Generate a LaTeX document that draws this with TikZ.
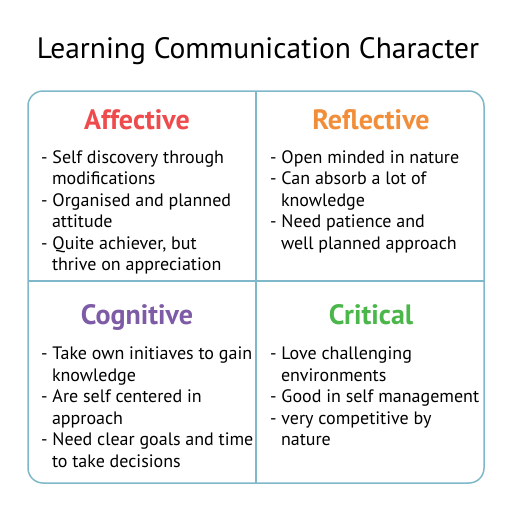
\documentclass[tikz,border=0pt]{standalone}
\usepackage{fontspec}
\setmainfont{PT Sans}
\definecolor{framec}{HTML}{7FB8C8}
\definecolor{affc}{HTML}{EF4A4C}
\definecolor{refc}{HTML}{F28E3A}
\definecolor{cogc}{HTML}{7D5BA6}
\definecolor{crc}{HTML}{4BB74A}
\tikzset{
  head/.style={font=\fontsize{28}{32}\selectfont\bfseries, anchor=base},
  items/.style={font=\fontsize{18}{21.5}\selectfont, align=left, anchor=north west, inner sep=0pt},
  frame/.style={draw=framec, line width=1.5pt}
}
\newcommand{\ind}{\hspace*{0.6em}}
\begin{document}
\begin{tikzpicture}[x=1pt,y=-1pt]
  \useasboundingbox[fill=white] (0,0) rectangle (512,512);
  \node[font=\fontsize{29.5}{34}\selectfont, anchor=base] (title) at (258,58) {Learning Communication Character};
  \draw[frame, rounded corners=15pt] (28,91) rectangle (484,483);
  \coordinate (vtop) at (256,91);
  \coordinate (vbot) at (256,483);
  \coordinate (hl) at (28,281);
  \coordinate (hr) at (484,281);
  \draw[frame] (vtop) -- (vbot);
  \draw[frame] (hl) -- (hr);
  % headings
  \node[head, text=affc] (aff) at (137,129) {Affective};
  \node[head, text=refc] (ref) at (371,129) {Reflective};
  \node[head, text=cogc] (cog) at (137,324) {Cognitive};
  \node[head, text=crc] (cri) at (371,324) {Critical};
  % lists
  \node[items] (afflist) at (41,150) {- Self discovery through\\\ind modifications\\- Organised and planned\\\ind attitude\\- Quite achiever, but\\\ind thrive on appreciation};
  \node[items] (reflist) at (270,150) {- Open minded in nature\\- Can absorb a lot of\\\ind knowledge\\- Need patience and\\\ind well planned approach};
  \node[items] (coglist) at (41,347) {- Take own initiaves to gain\\\ind knowledge\\- Are self centered in\\\ind approach\\- Need clear goals and time\\\ind to take decisions};
  \node[items] (crilist) at (270,347) {- Love challenging\\\ind environments\\- Good in self management\\- very competitive by\\\ind nature};
\end{tikzpicture}
\end{document}
